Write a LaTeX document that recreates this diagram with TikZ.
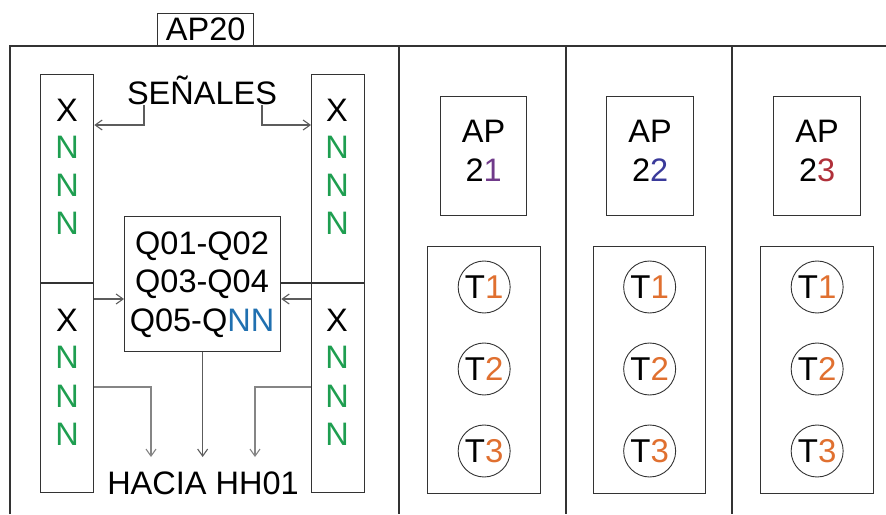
\documentclass[tikz,border=0pt]{standalone}
\usepackage{fontspec}
\setmainfont{Liberation Sans}
\usetikzlibrary{arrows.meta}
\definecolor{ngreen}{HTML}{1E9E50}
\definecolor{qblue}{HTML}{2070B0}
\definecolor{cpurple}{HTML}{703A8A}
\definecolor{cblue}{HTML}{3A3A9A}
\definecolor{cred}{HTML}{B0303A}
\definecolor{torange}{HTML}{E07030}
\definecolor{linec}{HTML}{333333}
\begin{document}
\begin{tikzpicture}[x=1pt,y=-1pt,
  box/.style={draw=linec,line width=1.3pt,anchor=north west,inner sep=0pt},
  txt/.style={font=\fontsize{32.5}{38}\selectfont,inner sep=0pt},
  frame/.style={draw=linec,line width=1.3pt},
  arr/.style={draw=linec!80,line width=1.1pt,-{Straight Barb[length=7pt,width=10pt,line width=1.1pt]}},
  tcirc/.style={circle,draw=linec,line width=0.9pt,minimum size=52pt,inner sep=0pt,font=\fontsize{33}{38}\selectfont}]
\useasboundingbox (0,0) rectangle (886,514);
% frame
\coordinate (fbl) at (10,514);
\coordinate (ftl) at (10,46);
\coordinate (ftr) at (886,46);
\draw[frame] (fbl) -- (ftl) -- (ftr);
\coordinate (d1t) at (399,46); \coordinate (d1b) at (399,514);
\coordinate (d2t) at (566,46); \coordinate (d2b) at (566,514);
\coordinate (d3t) at (732,46); \coordinate (d3b) at (732,514);
\draw[frame] (d1t) -- (d1b);
\draw[frame] (d2t) -- (d2b);
\draw[frame] (d3t) -- (d3b);
% AP20 tab
\node[box,minimum width=96pt,minimum height=33pt] (ap20box) at (157,13) {};
\node[txt] (ap20) at ([yshift=1pt]ap20box.center) {AP20};
% columns
\node[box,minimum width=53pt,minimum height=418pt] (colL) at (40,74) {};
\node[box,minimum width=53pt,minimum height=418pt] (colR) at (311,74) {};
% Q box
\node[box,minimum width=156pt,minimum height=135pt] (q) at (124,216) {};
\node[txt] (q1) at (202,246) {Q01-Q02};
\node[txt] (q2) at (202,284) {Q03-Q04};
\node[txt] (q3) at (202,323) {Q05-Q\textcolor{qblue}{NN}};
\draw[frame] (colL.west |- 0,283) -- (colL.east |- 0,283);
\draw[frame] (q.east |- 0,283) -- (colR.east |- 0,283);
% letters
\foreach \c/\x in {L/67,R/337}{
  \node[txt] (x1\c) at (\x,110) {X};
  \node[txt,text=ngreen] (n1\c) at (\x,147) {N};
  \node[txt,text=ngreen] (n2\c) at (\x,185) {N};
  \node[txt,text=ngreen] (n3\c) at (\x,223) {N};
  \node[txt] (x2\c) at (\x,320) {X};
  \node[txt,text=ngreen] (n4\c) at (\x,357) {N};
  \node[txt,text=ngreen] (n5\c) at (\x,396) {N};
  \node[txt,text=ngreen] (n6\c) at (\x,434) {N};
}
% senales
\node[txt] (sen) at (202,90) {SEÑALES};
\draw[arr] (144,105) -- (144,125) -- (colL.east |- 0,125);
\draw[arr] (262,105) -- (262,125) -- (colR.west |- 0,125);
\draw[arr] (colL.east |- 0,299) -- (q.west |- 0,299);
\draw[arr] (colR.west |- 0,299) -- (q.east |- 0,299);
% down arrows
\node[txt] (hacia) at (203,483) {HACIA HH01};
\draw[arr,draw=linec!60] (colL.east |- 0,387) -- (151,387) -- (151,457);
\draw[arr] (q.south) -- (q.south |- 0,457);
\draw[arr,draw=linec!60] (colR.west |- 0,387) -- (255,387) -- (255,457);
% AP boxes
\node[box,minimum width=86pt,minimum height=119pt] (ap21) at (440,96) {};
\node[box,minimum width=87pt,minimum height=119pt] (ap22) at (606,96) {};
\node[box,minimum width=87pt,minimum height=119pt] (ap23) at (773,96) {};
\foreach \n/\col/\d in {ap21/cpurple/1,ap22/cblue/2,ap23/cred/3}{
  \node[txt] (\n a) at ([yshift=-35pt]\n.north) {AP};
  \node[txt] (\n b) at ([yshift=-74pt]\n.north) {2\textcolor{\col}{\d}};
}
% T boxes
\node[box,minimum width=113pt,minimum height=247pt] (tb1) at (427,246) {};
\node[box,minimum width=112pt,minimum height=247pt] (tb2) at (593,246) {};
\node[box,minimum width=113pt,minimum height=247pt] (tb3) at (760,246) {};
\foreach \b in {1,2,3}{
  \node[tcirc] (t\b a) at ([yshift=-41pt]tb\b.north) {T\textcolor{torange}{1}};
  \node[tcirc] (t\b b) at ([yshift=-123pt]tb\b.north) {T\textcolor{torange}{2}};
  \node[tcirc] (t\b c) at ([yshift=-205pt]tb\b.north) {T\textcolor{torange}{3}};
}
\end{tikzpicture}
\end{document}
